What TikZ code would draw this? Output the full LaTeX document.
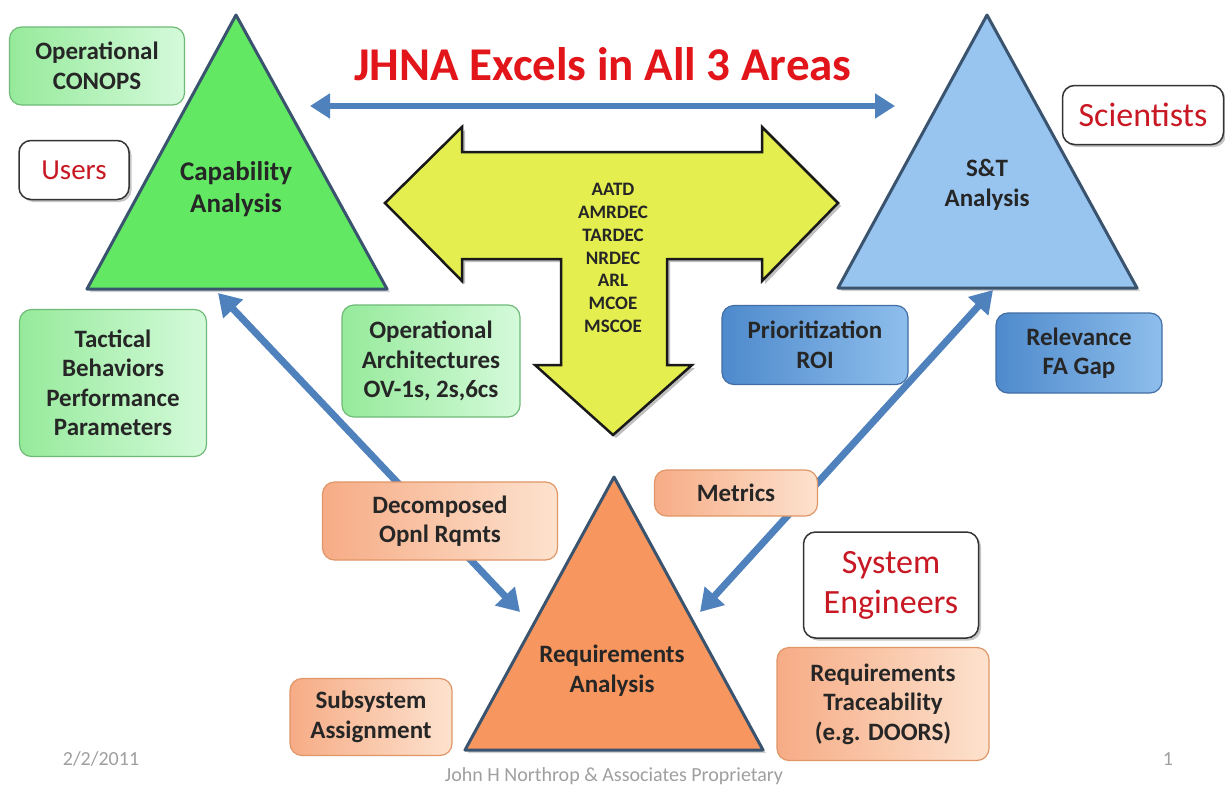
\documentclass[tikz,border=0pt]{standalone}
\usepackage{fontspec}
\setmainfont{Carlito}
\usetikzlibrary{arrows.meta,shadows}

\definecolor{titlered}{RGB}{226,22,26}
\definecolor{rolered}{RGB}{200,24,36}
\definecolor{triedge}{RGB}{58,84,112}
\definecolor{capgreen}{RGB}{98,232,98}
\definecolor{stblue}{RGB}{152,196,240}
\definecolor{reqorange}{RGB}{247,150,95}
\definecolor{arrowblue}{RGB}{79,129,189}
\definecolor{tyellow}{RGB}{228,238,78}
\definecolor{boxgreenA}{RGB}{150,234,155}
\definecolor{boxgreenB}{RGB}{212,250,218}
\definecolor{boxgreenedge}{RGB}{112,186,120}
\definecolor{boxblueA}{RGB}{78,138,204}
\definecolor{boxblueB}{RGB}{142,190,236}
\definecolor{boxblueedge}{RGB}{66,110,165}
\definecolor{boxorangeA}{RGB}{246,172,134}
\definecolor{boxorangeB}{RGB}{253,226,206}
\definecolor{boxorangeedge}{RGB}{224,150,102}

\begin{document}
\begin{tikzpicture}[x=1pt, y=-1pt, >={Triangle[length=22pt,width=26pt]},
    tri/.style={draw=triedge, line width=3pt, line join=round,
      drop shadow={shadow xshift=3pt, shadow yshift=-3pt, opacity=.35}},
    trilabel/.style={align=center, text=black!85, font=\bfseries\fontsize{25}{30}\selectfont},
    tarrow/.style={fill=tyellow, draw=black!90, line width=2.5pt,
      drop shadow={shadow xshift=3pt, shadow yshift=-3pt, opacity=.5}},
    box/.style={rounded corners=12pt, align=center, inner sep=0pt, line width=1.2pt,
      text=black!85, font=\bfseries\fontsize{25}{29.5}\selectfont},
    greenbox/.style={box, draw=boxgreenedge, left color=boxgreenA, right color=boxgreenB},
    bluebox/.style={box, draw=boxblueedge, left color=boxblueA, right color=boxblueB},
    orangebox/.style={box, draw=boxorangeedge, left color=boxorangeA, right color=boxorangeB},
    role/.style={rounded corners=12pt, align=center, inner sep=0pt, draw=black!80,
      line width=1.5pt, fill=white, text=rolered, font=\fontsize{34}{40}\selectfont,
      drop shadow={shadow xshift=2.5pt, shadow yshift=-2.5pt, opacity=.45}},
    link/.style={<->, line width=7pt, draw=arrowblue},
    note/.style={text=gray!75, font=\fontsize{20}{24}\selectfont}
  ]
    \useasboundingbox[fill=white] (0,0) rectangle (1225,787);

    % Triangles
    \coordinate (capA) at (236,15);
    \coordinate (capB) at (87,289);
    \coordinate (capC) at (387,289);
    \coordinate (stA) at (987,15);
    \coordinate (stB) at (838,288);
    \coordinate (stC) at (1137,288);
    \coordinate (reqA) at (614,477);
    \coordinate (reqB) at (465,750);
    \coordinate (reqC) at (763,750);
    \draw[tri, fill=capgreen] (capA) -- (capB) -- (capC) -- cycle;
    \draw[tri, fill=stblue] (stA) -- (stB) -- (stC) -- cycle;
    \draw[tri, fill=reqorange] (reqA) -- (reqB) -- (reqC) -- cycle;

    \node[trilabel, font=\bfseries\fontsize{27}{32}\selectfont] (capLabel) at (236,189) {Capability\\Analysis};
    \node[trilabel] (stLabel) at (987,185) {S\&T\\Analysis};
    \node[trilabel] (reqLabel) at (612,671) {Requirements\\Analysis};

    % Yellow T arrow
    \draw[tarrow] (385,203) -- (462,127) -- (462,152) -- (762,152) -- (762,127)
      -- (838,203) -- (762,281) -- (762,259) -- (667,259) -- (667,365)
      -- (692,365) -- (613,435) -- (535,365) -- (561,365) -- (561,259)
      -- (462,259) -- (462,281) -- cycle;
    \node[align=center, text=black!85, font=\bfseries\fontsize{19}{22.8}\selectfont] (orgs) at (613,258)
      {AATD\\AMRDEC\\TARDEC\\NRDEC\\ARL\\MCOE\\MSCOE};

    % Title and top arrow
    \node[text=titlered, font=\bfseries\fontsize{47}{56}\selectfont] (title) at (603,64) {JHNA Excels in All 3 Areas};
    \coordinate (capEnd) at (310,106);
    \coordinate (stEnd) at (895,106);
    \draw[<->, line width=6pt, draw=arrowblue, >={Triangle[length=20pt,width=24pt]}] (capEnd) -- (stEnd);

    % Links between triangles
    \coordinate (capIn) at (218,293);
    \coordinate (reqInL) at (520,612);
    \coordinate (stIn) at (993,290);
    \coordinate (reqInR) at (700,612);
    \draw[link] (capIn) -- (reqInL);
    \draw[link] (stIn) -- (reqInR);

    % Boxes
    \node[greenbox, minimum width=175pt, minimum height=78pt] (conops) at (97,66) {Operational\\CONOPS};
    \node[greenbox, minimum width=187pt, minimum height=147pt] (tactical) at (113,383) {Tactical\\Behaviors\\Performance\\Parameters};
    \node[greenbox, minimum width=178pt, minimum height=112pt] (opsArch) at (431,361) {Operational\\Architectures\\OV-1s, 2s,6cs};
    \node[bluebox, minimum width=186pt, minimum height=79pt] (prio) at (815,345) {Prioritization\\ROI};
    \node[bluebox, minimum width=166pt, minimum height=80pt] (relevance) at (1079,353) {Relevance\\FA Gap};
    \node[orangebox, minimum width=235pt, minimum height=78pt] (decomp) at (440,521) {Decomposed\\Opnl Rqmts};
    \node[orangebox, minimum width=163pt, minimum height=46pt] (metrics) at (736,493) {Metrics};
    \node[orangebox, minimum width=162pt, minimum height=77pt] (subsys) at (371,717) {Subsystem\\Assignment};
    \node[orangebox, minimum width=212pt, minimum height=113pt] (reqTrace) at (883,704) {Requirements\\Traceability\\(e.g. DOORS)};

    % Roles
    \node[role, minimum width=110pt, minimum height=59pt, font=\fontsize{29}{34}\selectfont] (users) at (74,170) {Users};
    \node[role, minimum width=161pt, minimum height=59pt] (scientists) at (1143,115) {Scientists};
    \node[role, minimum width=175pt, minimum height=106pt] (sysEng) at (891,585) {System\\Engineers};

    % Footer
    \node[note] (date) at (101,759) {2/2/2011};
    \node[note] (pagenum) at (1168,759) {1};
    \node[note] (footer) at (614,776) {John H Northrop \& Associates Proprietary};
\end{tikzpicture}
\end{document}
